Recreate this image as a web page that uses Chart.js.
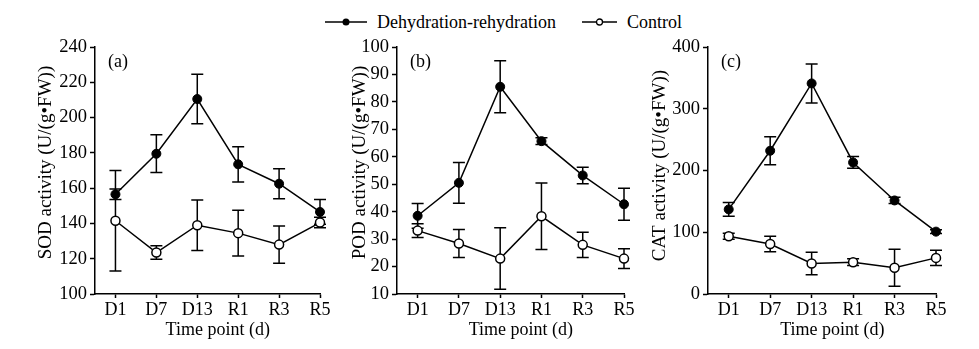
<!DOCTYPE html>
<html>
<head>
<meta charset="utf-8">
<title>SOD, POD and CAT activity</title>
<script src="https://cdn.jsdelivr.net/npm/chart.js@4.4.1/dist/chart.umd.min.js"></script>
<style>
    body { margin: 0; background: #fff; }
    #wrap { position: relative; width: 979px; height: 349px; overflow: hidden; font-family: "Liberation Serif", "Times New Roman", serif; color: #000; }
    #wrap canvas { position: absolute; top: 0; }
    .legend-item { position: absolute; top: 10px; height: 24px; display: flex; align-items: center; font-size: 18px; white-space: nowrap; }
    .legend-item svg { margin-right: 10px; }
</style>
</head>
<body>
<div id="wrap">
    <div class="legend-item" style="left:325px">
        <svg width="42" height="10"><line x1="0" y1="5" x2="42" y2="5" stroke="#000" stroke-width="1.5"/><circle cx="21" cy="5" r="3.5" fill="#000"/></svg>
        <span>Dehydration-rehydration</span>
    </div>
    <div class="legend-item" style="left:582px">
        <svg width="35" height="10"><line x1="0" y1="5" x2="35" y2="5" stroke="#000" stroke-width="1.5"/><circle cx="17.5" cy="5" r="3" fill="#fff" stroke="#000" stroke-width="1.3"/></svg>
        <span>Control</span>
    </div>
    <canvas id="sodChart" width="340" height="349" style="left:0"></canvas>
    <canvas id="podChart" width="340" height="349" style="left:320px"></canvas>
    <canvas id="catChart" width="339" height="349" style="left:640px"></canvas>
</div>
<script>
// Sampling time points
const timePoints = ['D1', 'D7', 'D13', 'R1', 'R3', 'R5'];

// SOD activity, mean and SD
const sodDehydration = [156.5, 179.5, 210.5, 173.5, 162.5, 146.5];
const sodDehydrationSd = [3, 10.7, 14, 10, 8.5, 7];
const sodControl = [141.5, 123.5, 139, 134.5, 128, 140.5];
const sodControlSd = [28.5, 3.8, 14.3, 13, 10.5, 3];
const sodTicks = [100, 120, 140, 160, 180, 200, 220, 240];

// POD activity, mean and SD
const podDehydration = [38.5, 50.5, 85.5, 65.7, 53.2, 42.7];
const podDehydrationSd = [4.5, 7.4, 9.5, 1.2, 3, 5.8];
const podControl = [33.1, 28.4, 22.9, 38.3, 27.9, 22.9];
const podControlSd = [2.5, 5.1, 11.2, 12.1, 4.6, 3.6];
const podTicks = [10, 20, 30, 40, 50, 60, 70, 80, 90, 100];

// CAT activity, mean and SD
const catDehydration = [137, 232, 341, 213, 151.5, 101];
const catDehydrationSd = [11, 22.5, 31.5, 9.5, 5, 3];
const catControl = [93.5, 81, 49.5, 51.5, 42.5, 58.5];
const catControlSd = [5, 12.5, 18.3, 5.5, 30, 12.3];
const catTicks = [0, 100, 200, 300, 400];

const FONT_FAMILY = '"Liberation Serif", "Times New Roman", serif';
const CHART_TOP = 47;
const CHART_BOTTOM = 294;

// Error bars (mean +/- SD) drawn under the lines and markers
const errorBars = {
    id: 'errorBars',
    beforeDatasetsDraw(chart) {
        const ctx = chart.ctx;
        const yScale = chart.scales.y;
        ctx.save();
        ctx.strokeStyle = '#000';
        ctx.lineWidth = 1.5;
        chart.data.datasets.forEach((ds, i) => {
            chart.getDatasetMeta(i).data.forEach((pt, j) => {
                const mean = ds.data[j].y;
                const top = yScale.getPixelForValue(mean + ds.sd[j]);
                const bottom = yScale.getPixelForValue(mean - ds.sd[j]);
                ctx.beginPath();
                ctx.moveTo(pt.x, top);
                ctx.lineTo(pt.x, bottom);
                ctx.moveTo(pt.x - 6, top);
                ctx.lineTo(pt.x + 6, top);
                ctx.moveTo(pt.x - 6, bottom);
                ctx.lineTo(pt.x + 6, bottom);
                ctx.stroke();
            });
        });
        ctx.restore();
    }
};

// Axis titles and panel letter
const panelText = {
    id: 'panelText',
    afterDraw(chart, args, opts) {
        const { ctx, chartArea } = chart;
        const xScale = chart.scales.x;
        ctx.save();
        ctx.fillStyle = '#000';
        ctx.textBaseline = 'middle';

        ctx.font = `18px ${FONT_FAMILY}`;
        ctx.textAlign = 'left';
        ctx.fillText(opts.letter, chartArea.left + 13, chartArea.top + 15);

        ctx.textAlign = 'center';
        const first = xScale.getPixelForValue(0);
        const last = xScale.getPixelForValue(timePoints.length - 1);
        ctx.fillText('Time point (d)', (first + last) / 2, chartArea.bottom + 36);

        ctx.font = `19px ${FONT_FAMILY}`;
        ctx.translate(chartArea.left - opts.yGap, (chartArea.top + chartArea.bottom) / 2 + opts.yShift);
        ctx.rotate(-Math.PI / 2);
        ctx.fillText(opts.yTitle, 0, 0);
        ctx.restore();
    }
};

const toPoints = (values) => values.map((v, i) => ({ x: i, y: v }));

// Render one panel
const renderPanel = (canvasId, panel) => {
    const ticks = panel.ticks;
    new Chart(document.getElementById(canvasId), {
        type: 'line',
        data: {
            datasets: [
                {
                    label: 'Dehydration-rehydration',
                    data: toPoints(panel.dehydration),
                    sd: panel.dehydrationSd,
                    borderColor: '#000',
                    borderWidth: 1.5,
                    pointRadius: 4.5,
                    pointBackgroundColor: '#000',
                    pointBorderColor: '#000',
                    pointBorderWidth: 1,
                    clip: false,
                },
                {
                    label: 'Control',
                    data: toPoints(panel.control),
                    sd: panel.controlSd,
                    borderColor: '#000',
                    borderWidth: 1.5,
                    pointRadius: 4.5,
                    pointBackgroundColor: '#fff',
                    pointBorderColor: '#000',
                    pointBorderWidth: 1.5,
                    clip: false,
                },
            ],
        },
        options: {
            responsive: false,
            animation: false,
            layout: {
                padding: { top: CHART_TOP, left: 0, bottom: 0, right: panel.canvasWidth - panel.right },
            },
            plugins: {
                legend: { display: false },
                tooltip: { enabled: false },
                panelText: { letter: panel.letter, yTitle: panel.yTitle, yGap: panel.yGap, yShift: panel.yShift },
            },
            scales: {
                x: {
                    type: 'linear',
                    min: -0.5,
                    max: timePoints.length - 1,
                    afterBuildTicks: (scale) => { scale.ticks = timePoints.map((t, i) => ({ value: i })); },
                    afterFit: (scale) => { scale.height = 349 - CHART_BOTTOM; },
                    ticks: {
                        autoSkip: false,
                        maxRotation: 0,
                        color: '#000',
                        padding: 1,
                        font: { family: FONT_FAMILY, size: 18 },
                        callback: (v) => timePoints[v],
                    },
                    grid: { drawOnChartArea: false, drawTicks: true, tickLength: 4, tickColor: '#000', tickWidth: 1.5 },
                    border: { display: true, color: '#000', width: 1.5 },
                },
                y: {
                    min: ticks[0],
                    max: ticks[ticks.length - 1],
                    afterBuildTicks: (scale) => { scale.ticks = ticks.map((v) => ({ value: v })); },
                    afterFit: (scale) => { scale.width = panel.left; },
                    ticks: {
                        color: '#000',
                        padding: 3,
                        font: { family: FONT_FAMILY, size: 18.5 },
                    },
                    grid: { drawOnChartArea: false, drawTicks: true, tickLength: 5, tickColor: '#000', tickWidth: 1.5 },
                    border: { display: true, color: '#000', width: 1.5 },
                },
            },
        },
        plugins: [errorBars, panelText],
    });
};

renderPanel('sodChart', {
    dehydration: sodDehydration, dehydrationSd: sodDehydrationSd,
    control: sodControl, controlSd: sodControlSd, ticks: sodTicks,
    letter: '(a)', yTitle: 'SOD activity (U/(g\u2022FW))',
    canvasWidth: 340, left: 95, right: 320, yGap: 49, yShift: -8,
});

renderPanel('podChart', {
    dehydration: podDehydration, dehydrationSd: podDehydrationSd,
    control: podControl, controlSd: podControlSd, ticks: podTicks,
    letter: '(b)', yTitle: 'POD activity (U/(g\u2022FW))',
    canvasWidth: 340, left: 77, right: 304, yGap: 37, yShift: -8,
});

renderPanel('catChart', {
    dehydration: catDehydration, dehydrationSd: catDehydrationSd,
    control: catControl, controlSd: catControlSd, ticks: catTicks,
    letter: '(c)', yTitle: 'CAT activity (U/(g\u2022FW))',
    canvasWidth: 339, left: 68, right: 296, yGap: 48, yShift: -5,
});
</script>
</body>
</html>
